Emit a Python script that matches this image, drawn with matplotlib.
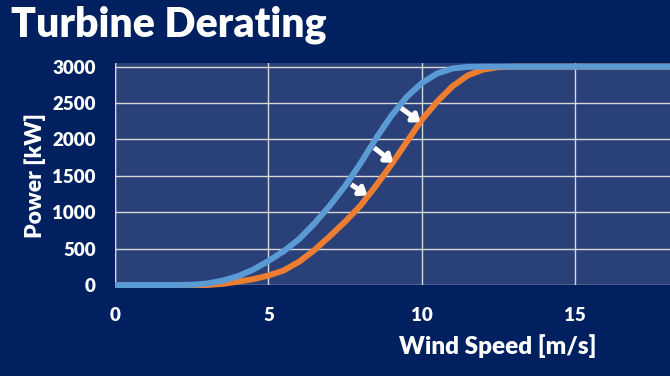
import matplotlib
matplotlib.use("Agg")
import matplotlib.pyplot as plt

# ---- data ----
wind_speed = [0, 0.5, 1, 1.5, 2, 2.5, 3, 3.5, 4, 4.5, 5, 5.5, 6, 6.5, 7, 7.5, 8, 8.5, 9,
              9.5, 10, 10.5, 11, 11.5, 12, 12.5, 13, 14, 15, 16, 17, 18, 18.5]
power_normal = [0, 0, 0, 0, 0, 3, 20, 60, 120, 210, 330, 465, 630, 845, 1090, 1360, 1670,
                2010, 2320, 2580, 2775, 2905, 2975, 2997, 3000, 3000, 3000, 3000, 3000,
                3000, 3000, 3000, 3000]
power_derated = [0, 0, 0, 0, 0, 0, 0, 15, 45, 80, 130, 200, 320, 480, 670, 870, 1090,
                 1360, 1650, 1960, 2270, 2520, 2730, 2880, 2960, 2993, 3000, 3000, 3000,
                 3000, 3000, 3000, 3000]
x_ticks = [0, 5, 10, 15]
y_ticks = [0, 500, 1000, 1500, 2000, 2500, 3000]

title = "Turbine Derating"
x_label = "Wind Speed [m/s]"
y_label = "Power [kW]"

# derating arrows (start -> end), in data units
arrows = [((9.33, 2430), (9.96, 2235)),
          ((8.45, 1885), (9.07, 1680)),
          ((7.70, 1380), (8.23, 1230))]

# ---- style ----
BG = "#002060"
PLOT_BG = "#2a4079"
BLUE = "#5b9bd5"
ORANGE = "#ed7d31"
FONT = ["Lato", "DejaVu Sans"]
plt.rcParams["font.family"] = FONT

W, H = 670, 376
fig = plt.figure(figsize=(W / 100, H / 100), dpi=100, facecolor=BG)
ax = fig.add_axes([115 / W, 1 - 285 / H, 1 - 115 / W, (285 - 63) / H])
ax.set_facecolor(PLOT_BG)

ax.set_xlim(0, 18.09)
ax.set_ylim(0, 3050)

ax.set_xticks(x_ticks)
ax.set_yticks(y_ticks)
ax.grid(True, color="#d9d9d9", lw=1.0)
ax.set_axisbelow(True)
for s in ax.spines.values():
    s.set_visible(False)
ax.axvline(0, color="#d9d9d9", lw=1.0, zorder=0.5)

ax.plot(wind_speed, power_derated, color=ORANGE, lw=4.3, solid_capstyle="butt",
        solid_joinstyle="round", clip_on=False, zorder=3)
ax.plot(wind_speed, power_normal, color=BLUE, lw=4.3, solid_capstyle="butt",
        solid_joinstyle="round", clip_on=False, zorder=4)

for (x0, y0), (x1, y1) in arrows:
    ax.annotate("", xy=(x1, y1), xytext=(x0, y0),
                arrowprops=dict(arrowstyle="-|>,head_width=0.32,head_length=0.42",
                                lw=3.6, color="white", shrinkA=0, shrinkB=0,
                                capstyle="butt"),
                zorder=5)

ax.tick_params(axis="both", length=0, colors="white", labelsize=13.5)
ax.tick_params(axis="y", pad=14)
ax.tick_params(axis="x", pad=16)
for lab in ax.get_xticklabels() + ax.get_yticklabels():
    lab.set_fontweight("heavy")
    lab.set_color("white")

fig.text(498 / W, 1 - 346 / H, x_label, color="white", fontsize=17.5, fontweight="heavy",
         ha="center", va="center")
fig.text(35 / W, 1 - 176 / H, y_label, color="white", fontsize=16.5, fontweight="heavy",
         ha="center", va="center", rotation=90)
fig.text(11 / W, 1 - 25 / H, title, color="white", fontsize=29.5, fontweight="heavy",
         ha="left", va="center")

fig.savefig("out.png", dpi=100, facecolor=BG)
